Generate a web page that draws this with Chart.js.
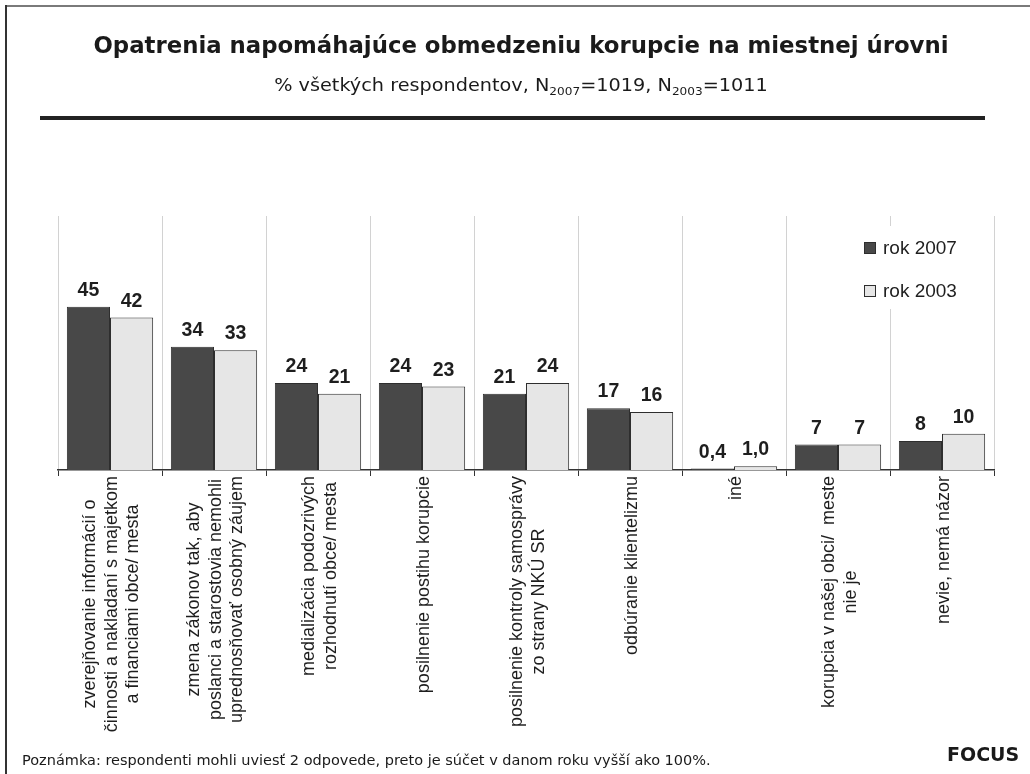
<!DOCTYPE html>
<html>
<head>
<meta charset="utf-8">
<script src="https://cdn.jsdelivr.net/npm/chart.js@4/dist/chart.umd.min.js"></script>
<style>
  html, body { margin: 0; padding: 0; background: #fff; }
  #wrap { position: relative; width: 1030px; height: 774px; overflow: hidden; }
  #chart { position: absolute; left: 0; top: 0; }
  .frame-top { position: absolute; left: 6px; top: 5px; width: 1030px; height: 2px; background: #7a7a7a; }
  .frame-left { position: absolute; left: 5px; top: 5px; width: 2px; height: 780px; background: #333; }
  .title { position: absolute; left: 12px; width: 1018px; top: 32px; text-align: center; white-space: nowrap;
           font: bold 22.8px "DejaVu Sans", Verdana, sans-serif; color: #1a1a1a; }
  .subtitle { position: absolute; left: 12px; width: 1018px; top: 75px; text-align: center; white-space: nowrap;
              font: 17.5px "DejaVu Sans", Verdana, sans-serif; color: #1a1a1a;
              transform: scaleX(1.1); transform-origin: 509px 0; }
  .subtitle sub { font-size: 11px; vertical-align: -4px; }
  .rule { position: absolute; left: 40px; width: 945px; top: 116px; height: 4px; background: #222; }
  .note { position: absolute; left: 22px; top: 752px; white-space: nowrap;
          font: 14.5px "DejaVu Sans", Verdana, sans-serif; color: #1a1a1a; }
  .brand { position: absolute; left: 947px; top: 743px; line-height: 19px;
           font: bold 19px "DejaVu Sans", Verdana, sans-serif; color: #1a1a1a; }
</style>
</head>
<body>
<div id="wrap">
  <canvas id="chart" width="1030" height="774"></canvas>
  <div class="frame-top"></div>
  <div class="frame-left"></div>
  <div class="title">Opatrenia napomáhajúce obmedzeniu korupcie na miestnej úrovni</div>
  <div class="subtitle">% všetkých respondentov, N<sub>2007</sub>=1019, N<sub>2003</sub>=1011</div>
  <div class="rule"></div>
  <div class="note">Poznámka: respondenti mohli uviesť 2 odpovede, preto je súčet v danom roku vyšší ako 100%.</div>
  <div class="brand">FOCUS</div>
</div>
<script>
// categories, each one split into the lines shown under the axis
const categories = [
    ['zverejňovanie informácií o', 'činnosti a nakladaní s majetkom', 'a financiami obce/ mesta'],
    ['zmena zákonov tak, aby', 'poslanci a starostovia nemohli', 'uprednosňovať osobný záujem'],
    ['medializácia podozrivých', 'rozhodnutí obce/ mesta'],
    ['posilnenie postihu korupcie'],
    ['posilnenie kontroly samosprávy', 'zo strany NKÚ SR'],
    ['odbúranie klientelizmu'],
    ['iné'],
    ['korupcia v našej obci/  meste', 'nie je'],
    ['nevie, nemá názor']
];
const seriesNames = ['rok 2007', 'rok 2003'];
const values2007 = [45, 34, 24, 24, 21, 17, 0.4, 7, 8];
const values2003 = [42, 33, 21, 23, 24, 16, 1.0, 7, 10];
const yMax = 70;

const colors = {
    dark: '#484848',
    light: '#e6e6e6',
    border: '#2e2e2e',
    grid: '#d2d2d2',
    text: '#1e1e1e'
};

function formatValue(v) {
    // small shares are printed with one decimal, Slovak comma
    return v < 5 ? v.toFixed(1).replace('.', ',') : v.toFixed(0);
}

const valueLabels = {
    id: 'valueLabels',
    afterDatasetsDraw(chart) {
        const ctx = chart.ctx;
        ctx.save();
        ctx.font = 'bold 19.5px "Liberation Sans", Arial, sans-serif';
        ctx.fillStyle = colors.text;
        ctx.textAlign = 'center';
        ctx.textBaseline = 'alphabetic';
        chart.data.datasets.forEach((ds, di) => {
            chart.getDatasetMeta(di).data.forEach((bar, i) => {
                ctx.fillText(formatValue(ds.data[i]), bar.x, bar.y - 11);
            });
        });
        ctx.restore();
    }
};

const categoryLabels = {
    id: 'categoryLabels',
    afterDraw(chart) {
        const ctx = chart.ctx;
        const x = chart.scales.x;
        const top = chart.chartArea.bottom + 6;
        const lineHeight = 21.5;
        ctx.save();
        ctx.font = '18px "Liberation Sans", Arial, sans-serif';
        ctx.fillStyle = colors.text;
        ctx.textAlign = 'center';
        ctx.textBaseline = 'middle';
        categories.forEach((lines, i) => {
            const cx = x.getPixelForValue(i) + 2;
            const maxW = Math.max(...lines.map(l => ctx.measureText(l).width));
            const cy = top + maxW / 2;
            lines.forEach((line, j) => {
                const lx = cx + (j - (lines.length - 1) / 2) * lineHeight;
                ctx.save();
                ctx.translate(lx, cy);
                ctx.rotate(-Math.PI / 2);
                ctx.fillText(line, 0, 0);
                ctx.restore();
            });
        });
        ctx.restore();
    }
};

const boxLegend = {
    id: 'boxLegend',
    afterDraw(chart) {
        const ctx = chart.ctx;
        const fills = [colors.dark, colors.light];
        ctx.save();
        ctx.fillStyle = '#fff';
        ctx.fillRect(856, 226, 128, 83);
        ctx.font = '19px "Liberation Sans", Arial, sans-serif';
        ctx.textBaseline = 'middle';
        seriesNames.forEach((name, i) => {
            const y = 248 + i * 43;
            ctx.fillStyle = fills[i];
            ctx.fillRect(864.5, y - 5.5, 11, 11);
            ctx.strokeStyle = colors.border;
            ctx.lineWidth = 1;
            ctx.strokeRect(864.5, y - 5.5, 11, 11);
            ctx.fillStyle = colors.text;
            ctx.fillText(name, 883, y + 1);
        });
        ctx.restore();
    }
};

new Chart(document.getElementById('chart'), {
    type: 'bar',
    data: {
        labels: categories,
        datasets: [
            {
                label: seriesNames[0],
                data: values2007,
                backgroundColor: colors.dark,
                borderColor: colors.border,
                borderWidth: 1,
                categoryPercentage: 0.83,
                barPercentage: 1.0
            },
            {
                label: seriesNames[1],
                data: values2003,
                backgroundColor: colors.light,
                borderColor: colors.border,
                borderWidth: 1,
                categoryPercentage: 0.83,
                barPercentage: 1.0
            }
        ]
    },
    options: {
        responsive: false,
        devicePixelRatio: 1,
        animation: false,
        layout: {
            padding: { left: 58, right: 36, top: 216, bottom: 298 }
        },
        plugins: {
            legend: { display: false },
            tooltip: { enabled: false }
        },
        scales: {
            x: {
                grid: {
                    offset: true,
                    color: colors.grid,
                    tickColor: '#333',
                    tickLength: 6,
                    lineWidth: 1
                },
                border: { color: '#333', width: 1.5 },
                ticks: { display: false }
            },
            y: {
                display: false,
                min: 0,
                max: yMax
            }
        }
    },
    plugins: [valueLabels, categoryLabels, boxLegend]
});
</script>
</body>
</html>
